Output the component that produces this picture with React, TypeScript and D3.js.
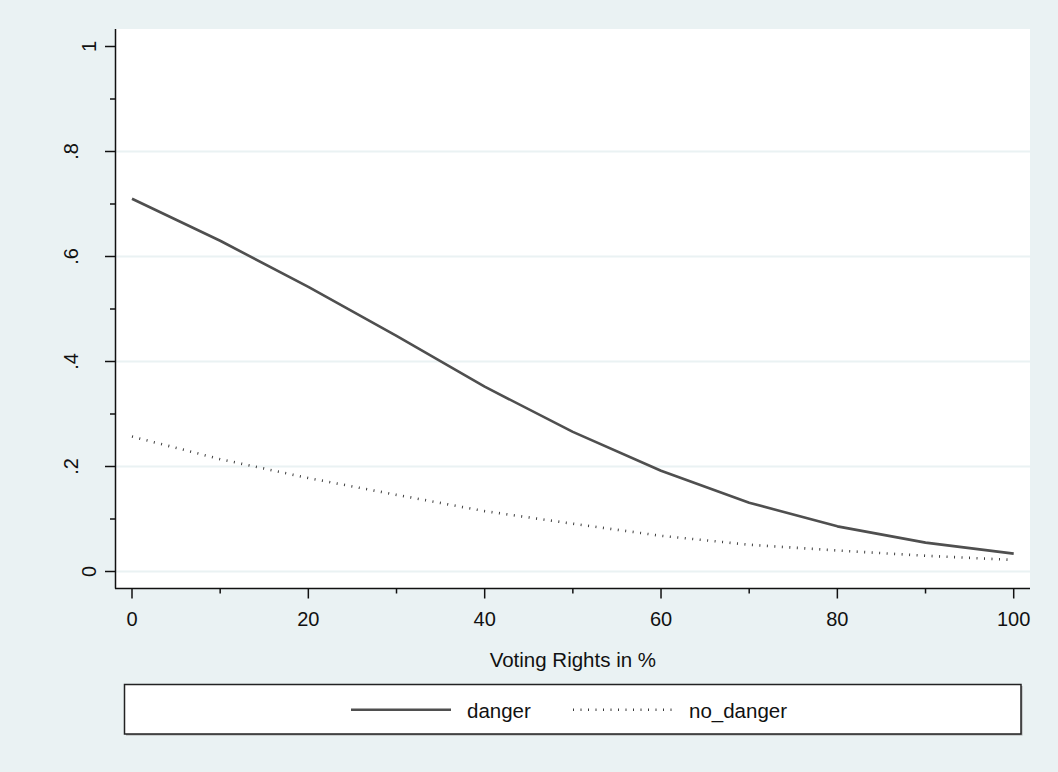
import * as d3 from 'd3'
import React, { useEffect, useRef } from 'react'

// Chart values
const rights = [0, 10, 20, 30, 40, 50, 60, 70, 80, 90, 100]
const danger = [0.71, 0.63, 0.542, 0.449, 0.352, 0.266, 0.192, 0.131, 0.086, 0.055, 0.034]
const noDanger = [0.257, 0.214, 0.178, 0.146, 0.115, 0.091, 0.068, 0.051, 0.04, 0.03, 0.022]
const xTicks = [0, 20, 40, 60, 80, 100]
const xMinor = [10, 30, 50, 70, 90]
const yTicks = [0, 0.2, 0.4, 0.6, 0.8, 1]
const yMinor = [0.1, 0.3, 0.5, 0.7, 0.9]
const yTickLabels = ['0', '.2', '.4', '.6', '.8', '1']
const seriesNames = ['danger', 'no_danger']

const W = 1058
const H = 772
const BG = '#eaf2f3'
const FONT = '"Liberation Sans", Arial, sans-serif'
const DOTS = '1 6.5'

const App = () => {
    const ref = useRef<SVGSVGElement>(null)

    useEffect(() => {
        const svg = d3.select(ref.current)
        svg.selectAll('*').remove()

        const plot = { left: 116, right: 1030, top: 29, bottom: 588 }

        const x = d3.scaleLinear().domain([0, 100]).range([132, 1013.7])
        const y = d3.scaleLinear().domain([0, 1]).range([571.5, 46.5])

        // Background
        svg.append('rect').attr('width', W).attr('height', H).attr('fill', BG)
        svg.append('rect')
            .attr('x', plot.left).attr('y', plot.top)
            .attr('width', plot.right - plot.left).attr('height', plot.bottom - plot.top)
            .attr('fill', '#ffffff')

        // Gridlines (not at the top tick)
        svg.append('g')
            .selectAll('line')
            .data(yTicks.filter(d => d < 1))
            .enter()
            .append('line')
            .attr('x1', plot.left).attr('x2', plot.right)
            .attr('y1', d => y(d)).attr('y2', d => y(d))
            .attr('stroke', BG).attr('stroke-width', 2)

        // Series
        const line = d3.line<number>()
            .x((_, i) => x(rights[i]))
            .y(d => y(d))

        svg.append('path')
            .attr('d', line(danger))
            .attr('fill', 'none')
            .attr('stroke', '#4f4f4f')
            .attr('stroke-width', 2.6)
            .attr('stroke-linejoin', 'round')

        svg.append('path')
            .attr('d', line(noDanger))
            .attr('fill', 'none')
            .attr('stroke', '#3c3c3c')
            .attr('stroke-width', 2.6)
            .attr('stroke-dasharray', DOTS)

        // Axes
        const axisColor = '#111'
        svg.append('line')
            .attr('x1', plot.left - 0.5).attr('x2', plot.left - 0.5)
            .attr('y1', plot.top).attr('y2', plot.bottom + 0.5)
            .attr('stroke', axisColor).attr('stroke-width', 1.5)
        svg.append('line')
            .attr('x1', plot.left - 1).attr('x2', plot.right)
            .attr('y1', plot.bottom + 0.5).attr('y2', plot.bottom + 0.5)
            .attr('stroke', axisColor).attr('stroke-width', 1.5)

        // Y ticks
        svg.append('g').selectAll('line').data(yTicks).enter().append('line')
            .attr('x1', plot.left - 11).attr('x2', plot.left - 0.5)
            .attr('y1', d => y(d)).attr('y2', d => y(d))
            .attr('stroke', axisColor).attr('stroke-width', 1.5)
        svg.append('g').selectAll('line').data(yMinor).enter().append('line')
            .attr('x1', plot.left - 6).attr('x2', plot.left - 0.5)
            .attr('y1', d => y(d)).attr('y2', d => y(d))
            .attr('stroke', axisColor).attr('stroke-width', 1.5)

        // Y labels, rotated
        svg.append('g').selectAll('text').data(yTicks).enter().append('text')
            .attr('transform', (d, i) => {
                const bx = yTickLabels[i].startsWith('.') ? 78 : 95.5
                return `translate(${bx},${y(d)}) rotate(-90)`
            })
            .attr('text-anchor', 'middle')
            .attr('font-family', FONT)
            .attr('font-size', 20)
            .attr('fill', '#111')
            .text((_, i) => yTickLabels[i])

        // X ticks
        svg.append('g').selectAll('line').data(xTicks).enter().append('line')
            .attr('x1', d => x(d)).attr('x2', d => x(d))
            .attr('y1', plot.bottom + 0.5).attr('y2', plot.bottom + 10.5)
            .attr('stroke', axisColor).attr('stroke-width', 1.5)
        svg.append('g').selectAll('line').data(xMinor).enter().append('line')
            .attr('x1', d => x(d)).attr('x2', d => x(d))
            .attr('y1', plot.bottom + 0.5).attr('y2', plot.bottom + 5.5)
            .attr('stroke', axisColor).attr('stroke-width', 1.5)

        svg.append('g').selectAll('text').data(xTicks).enter().append('text')
            .attr('x', d => x(d)).attr('y', 625.5)
            .attr('text-anchor', 'middle')
            .attr('font-family', FONT)
            .attr('font-size', 20)
            .attr('fill', '#111')
            .text(d => String(d))

        // Axis title
        svg.append('text')
            .attr('x', (x(0) + x(100)) / 2).attr('y', 666.5)
            .attr('text-anchor', 'middle')
            .attr('font-family', FONT)
            .attr('font-size', 20.5)
            .attr('fill', '#111')
            .text('Voting Rights in %')

        // Legend box
        const lg = { x: 124.5, y: 684.5, w: 896.5, h: 49.5 }
        svg.append('rect')
            .attr('x', lg.x + 1.5).attr('y', lg.y + 1.5)
            .attr('width', lg.w).attr('height', lg.h)
            .attr('fill', '#a8a8a8')
        svg.append('rect')
            .attr('x', lg.x).attr('y', lg.y)
            .attr('width', lg.w).attr('height', lg.h)
            .attr('fill', '#ffffff')
            .attr('stroke', '#222').attr('stroke-width', 1.5)

        const legendY = 709.7
        const keys = [
            { x0: 351, stroke: '#4f4f4f', dash: null as string | null, tx: 467 },
            { x0: 573, stroke: '#3c3c3c', dash: DOTS, tx: 689 },
        ]
        keys.forEach((k, i) => {
            const l = svg.append('line')
                .attr('x1', k.x0).attr('x2', k.x0 + 100)
                .attr('y1', legendY).attr('y2', legendY)
                .attr('stroke', k.stroke).attr('stroke-width', 2.6)
            if (k.dash) l.attr('stroke-dasharray', k.dash)
            svg.append('text')
                .attr('x', k.tx).attr('y', 718)
                .attr('font-family', FONT)
                .attr('font-size', 20.5)
                .attr('fill', '#111')
                .text(seriesNames[i])
        })
    }, [])

    return (
        <svg
            ref={ref}
            width={W}
            height={H}
            style={{ position: 'absolute', left: 0, top: 0, display: 'block' }}
        />
    )
}

export default App
